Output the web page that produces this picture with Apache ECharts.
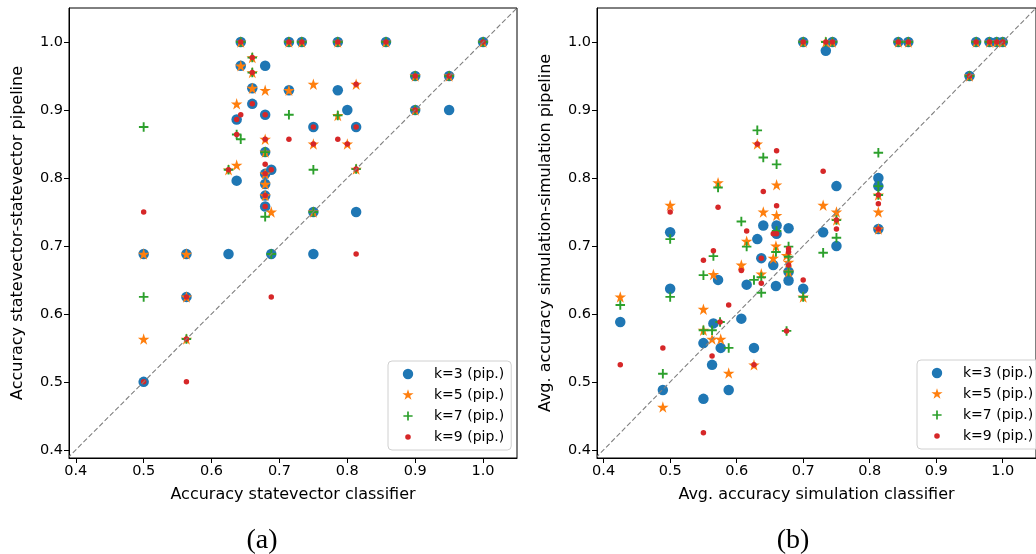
<!DOCTYPE html>
<html>
<head>
<meta charset="utf-8">
<script src="https://cdn.jsdelivr.net/npm/echarts@6/dist/echarts.min.js"></script>
<style>
  html, body { margin: 0; padding: 0; background: #fff; }
  #chart { width: 1036px; height: 554px; }
</style>
</head>
<body>
<div id="chart"></div>
<script>
// ---- values ----
const tickValues = [0.4, 0.5, 0.6, 0.7, 0.8, 0.9, 1.0];
const seriesNames = ['k=3 (pip.)', 'k=5 (pip.)', 'k=7 (pip.)', 'k=9 (pip.)'];
const diagonal = [[0.38, 0.38], [1.06, 1.06]];

// (a) statevector classifier vs statevector-statevector pipeline
const leftK3 = [
  [0.643,1.0],[0.714,1.0],[0.733,1.0],[0.786,1.0],[0.857,1.0],[1.0,1.0],
  [0.643,0.965],[0.679,0.965],[0.66,0.932],[0.714,0.929],[0.786,0.929],
  [0.66,0.909],[0.679,0.893],[0.637,0.886],[0.679,0.838],[0.637,0.796],
  [0.679,0.806],[0.688,0.812],[0.679,0.791],[0.679,0.774],[0.679,0.758],
  [0.9,0.95],[0.95,0.95],[0.8,0.9],[0.9,0.9],[0.95,0.9],
  [0.75,0.875],[0.813,0.875],[0.75,0.75],[0.813,0.75],[0.75,0.688],
  [0.5,0.688],[0.563,0.688],[0.625,0.688],[0.688,0.688],[0.563,0.625],[0.5,0.5]
];
const leftK5 = [
  [0.643,1.0],[0.714,1.0],[0.733,1.0],[0.786,1.0],[0.857,1.0],[1.0,1.0],
  [0.66,0.977],[0.643,0.965],[0.66,0.955],[0.66,0.932],[0.679,0.929],[0.714,0.929],
  [0.637,0.909],[0.679,0.857],[0.679,0.838],[0.625,0.812],[0.637,0.819],
  [0.679,0.806],[0.679,0.791],[0.679,0.774],[0.688,0.75],
  [0.9,0.95],[0.95,0.95],[0.9,0.9],
  [0.75,0.938],[0.813,0.938],[0.786,0.892],[0.75,0.85],[0.8,0.85],[0.813,0.813],[0.75,0.75],
  [0.5,0.688],[0.563,0.688],[0.563,0.625],[0.5,0.563],[0.563,0.563]
];
const leftK7 = [
  [0.643,1.0],[0.714,1.0],[0.733,1.0],[0.786,1.0],[0.857,1.0],[1.0,1.0],
  [0.66,0.977],[0.66,0.955],[0.5,0.875],[0.714,0.893],[0.637,0.864],[0.643,0.857],
  [0.679,0.838],[0.625,0.812],[0.679,0.743],
  [0.9,0.95],[0.95,0.95],[0.9,0.9],
  [0.786,0.892],[0.75,0.812],[0.813,0.813],[0.75,0.75],
  [0.688,0.688],[0.5,0.625],[0.563,0.563]
];
const leftK9 = [
  [0.643,1.0],[0.714,1.0],[0.733,1.0],[0.786,1.0],[0.857,1.0],[1.0,1.0],
  [0.66,0.977],[0.66,0.955],[0.66,0.909],[0.679,0.893],[0.643,0.893],[0.637,0.886],
  [0.637,0.864],[0.679,0.857],[0.714,0.857],[0.679,0.82],[0.625,0.812],[0.679,0.806],
  [0.688,0.812],[0.679,0.774],[0.679,0.758],[0.5,0.75],
  [0.9,0.95],[0.95,0.95],[0.9,0.9],
  [0.813,0.938],[0.75,0.875],[0.813,0.875],[0.786,0.857],[0.75,0.85],[0.8,0.85],[0.813,0.813],
  [0.813,0.688],[0.688,0.625],[0.563,0.625],[0.5,0.5],[0.563,0.563],[0.563,0.5]
];

// (b) simulation classifier vs simulation-simulation pipeline (averages)
const rightK3 = [
  [0.70,1.0],[0.744,1.0],[0.843,1.0],[0.858,1.0],[0.96,1.0],[0.98,1.0],[0.991,1.0],[1.0,1.0],[0.95,0.95],
  [0.734,0.987],[0.75,0.788],[0.813,0.8],[0.813,0.788],[0.813,0.725],[0.73,0.72],[0.75,0.70],
  [0.5,0.72],[0.64,0.73],[0.66,0.73],[0.678,0.726],[0.66,0.718],[0.631,0.71],
  [0.637,0.682],[0.655,0.672],[0.678,0.662],[0.572,0.65],[0.615,0.643],[0.659,0.641],[0.678,0.649],[0.70,0.637],
  [0.5,0.637],[0.425,0.588],[0.607,0.593],[0.565,0.586],[0.55,0.557],[0.576,0.55],[0.626,0.55],[0.563,0.525],
  [0.489,0.488],[0.588,0.488],[0.55,0.475]
];
const rightK5 = [
  [0.70,1.0],[0.734,1.0],[0.744,1.0],[0.843,1.0],[0.858,1.0],[0.96,1.0],[0.98,1.0],[0.991,1.0],[1.0,1.0],[0.95,0.95],
  [0.631,0.85],[0.572,0.793],[0.66,0.79],[0.5,0.76],[0.64,0.75],[0.66,0.745],[0.73,0.76],[0.75,0.75],[0.75,0.738],
  [0.813,0.775],[0.813,0.75],[0.813,0.725],
  [0.615,0.707],[0.659,0.70],[0.675,0.686],[0.655,0.682],[0.678,0.676],[0.678,0.662],[0.607,0.672],
  [0.565,0.658],[0.637,0.659],[0.70,0.625],
  [0.425,0.625],[0.55,0.607],[0.55,0.576],[0.563,0.563],[0.576,0.563],[0.588,0.513],[0.626,0.525],[0.489,0.463]
];
const rightK7 = [
  [0.70,1.0],[0.734,1.0],[0.744,1.0],[0.843,1.0],[0.858,1.0],[0.96,1.0],[0.98,1.0],[0.991,1.0],[1.0,1.0],[0.95,0.95],
  [0.631,0.87],[0.64,0.83],[0.66,0.82],[0.572,0.786],[0.813,0.837],[0.813,0.788],[0.813,0.775],
  [0.75,0.738],[0.75,0.712],[0.73,0.69],
  [0.5,0.71],[0.607,0.736],[0.66,0.722],[0.615,0.699],[0.659,0.691],[0.678,0.699],[0.678,0.684],
  [0.565,0.685],[0.55,0.657],[0.637,0.654],[0.626,0.65],[0.678,0.662],[0.637,0.631],[0.70,0.625],
  [0.5,0.625],[0.425,0.613],[0.575,0.588],[0.55,0.576],[0.563,0.576],[0.588,0.55],[0.489,0.512],[0.675,0.575]
];
const rightK9 = [
  [0.70,1.0],[0.734,1.0],[0.744,1.0],[0.843,1.0],[0.858,1.0],[0.96,1.0],[0.98,1.0],[0.991,1.0],[1.0,1.0],[0.95,0.95],
  [0.631,0.85],[0.66,0.84],[0.64,0.78],[0.5,0.75],[0.572,0.757],[0.66,0.759],[0.73,0.81],
  [0.813,0.775],[0.813,0.762],[0.75,0.738],[0.75,0.725],[0.813,0.725],
  [0.615,0.722],[0.655,0.718],[0.66,0.718],[0.678,0.696],[0.678,0.691],[0.565,0.693],[0.55,0.679],
  [0.637,0.682],[0.678,0.672],[0.607,0.664],[0.637,0.645],[0.70,0.65],
  [0.588,0.613],[0.575,0.588],[0.489,0.55],[0.563,0.538],[0.425,0.525],[0.626,0.525],[0.675,0.575],[0.55,0.425]
];

// ---- styling ----
const FONT = 'DejaVu Sans';
const colors = ['#1f77b4', '#ff7f0e', '#2ca02c', '#d62728'];
const STAR = 'path://M0,-100L22.45,-30.9L95.11,-30.9L36.33,11.8L58.78,80.9L0,38.2L-58.78,80.9L-36.33,11.8L-95.11,-30.9L-22.45,-30.9Z';
const PLUS = 'path://M4,0H6V4H10V6H6V10H4V6H0V4H4Z';
const markers = [
  { symbol: 'circle', size: 10.5 },
  { symbol: STAR, size: 11.5 },
  { symbol: PLUS, size: 9.5 },
  { symbol: 'circle', size: 5.5 }
];
// legend icons: 35x14 box, marker centred at (14,7)
const legendIcons = [
  'path://M0,0ZM35,14ZM19.2,7A5.2,5.2,0,1,1,8.8,7A5.2,5.2,0,1,1,19.2,7Z',
  'path://M0,0ZM35,14ZM14,1.2L15.32,5.2L19.6,5.2L16.13,7.67L17.45,11.7L14,9.24L10.55,11.7L11.87,7.67L8.4,5.2L12.68,5.2Z',
  'path://M0,0ZM35,14ZM13.15,2.4H14.85V6.15H18.6V7.85H14.85V11.6H13.15V7.85H9.4V6.15H13.15Z',
  'path://M0,0ZM35,14ZM16.8,7A2.8,2.8,0,1,1,11.2,7A2.8,2.8,0,1,1,16.8,7Z'
];

const X_MIN = 0.39, X_MAX = 1.05, Y_MIN = 0.388, Y_MAX = 1.05;

function xAxisFor(gridIndex, name) {
  return {
    type: 'value', gridIndex, min: X_MIN, max: X_MAX,
    name, nameLocation: 'middle', nameGap: 29,
    nameTextStyle: { fontFamily: FONT, fontSize: 16, color: '#000' },
    axisLine: { show: true, onZero: false, lineStyle: { color: '#000', width: 1 } },
    axisTick: { show: true, length: 5, customValues: tickValues, lineStyle: { color: '#000', width: 1 } },
    axisLabel: { customValues: tickValues, formatter: v => v.toFixed(1), fontFamily: FONT, fontSize: 14.5, color: '#000', margin: 6 },
    splitLine: { show: false }
  };
}
function yAxisFor(gridIndex, name) {
  return {
    type: 'value', gridIndex, min: Y_MIN, max: Y_MAX,
    name, nameLocation: 'middle', nameGap: 43, nameRotate: 90,
    nameTextStyle: { fontFamily: FONT, fontSize: 16, color: '#000' },
    axisLine: { show: true, onZero: false, lineStyle: { color: '#000', width: 1 } },
    axisTick: { show: true, length: 5, customValues: tickValues, lineStyle: { color: '#000', width: 1 } },
    axisLabel: { customValues: tickValues, formatter: v => v.toFixed(1), fontFamily: FONT, fontSize: 14.5, color: '#000', margin: 6 },
    splitLine: { show: false }
  };
}
function legendFor(left, top) {
  return {
    orient: 'vertical', left, top,
    itemWidth: 35, itemHeight: 14, itemGap: 7,
    padding: [6, 7, 6, 6],
    borderColor: '#d0d0d0', borderWidth: 1, borderRadius: 4,
    backgroundColor: 'rgba(255,255,255,0.8)',
    selectedMode: false,
    textStyle: { fontFamily: FONT, fontSize: 14, color: '#000' },
    data: seriesNames.map((n, i) => ({ name: n, icon: legendIcons[i] }))
  };
}
function scatterSet(idx, sets) {
  const out = sets.map((data, i) => ({
    type: 'scatter', name: seriesNames[i],
    xAxisIndex: idx, yAxisIndex: idx,
    data, symbol: markers[i].symbol, symbolSize: markers[i].size,
    itemStyle: { color: colors[i], opacity: 1 },
    emphasis: { disabled: true }, z: 2 + i * 0.1
  }));
  // y = x reference line
  out.push({
    type: 'line', xAxisIndex: idx, yAxisIndex: idx, data: diagonal,
    symbol: 'none', silent: true, z: 3,
    lineStyle: { color: '#808080', width: 1.1, type: [5, 2.5] }
  });
  return out;
}

const chart = echarts.init(document.getElementById('chart'), null, { renderer: 'canvas' });
chart.setOption({
  animation: false,
  backgroundColor: '#fff',
  grid: [
    { left: 69, top: 8, width: 448, height: 450, show: true, borderColor: '#000', borderWidth: 1, backgroundColor: 'transparent' },
    { left: 597, top: 8, width: 448, height: 450, show: true, borderColor: '#000', borderWidth: 1, backgroundColor: 'transparent' }
  ],
  xAxis: [
    xAxisFor(0, 'Accuracy statevector classifier'),
    xAxisFor(1, 'Avg. accuracy simulation classifier')
  ],
  yAxis: [
    yAxisFor(0, 'Accuracy statevector-statevector pipeline'),
    yAxisFor(1, 'Avg. accuracy simulation-simulation pipeline')
  ],
  legend: [legendFor(388, 361), legendFor(917, 360)],
  series: [
    ...scatterSet(0, [leftK3, leftK5, leftK7, leftK9]),
    ...scatterSet(1, [rightK3, rightK5, rightK7, rightK9])
  ],
  graphic: [
    { type: 'text', x: 262, y: 541, style: { text: '(a)', font: '28px "Liberation Serif"', fill: '#000', textAlign: 'center', textVerticalAlign: 'middle' } },
    { type: 'text', x: 793, y: 541, style: { text: '(b)', font: '28px "Liberation Serif"', fill: '#000', textAlign: 'center', textVerticalAlign: 'middle' } }
  ]
});
</script>
</body>
</html>
